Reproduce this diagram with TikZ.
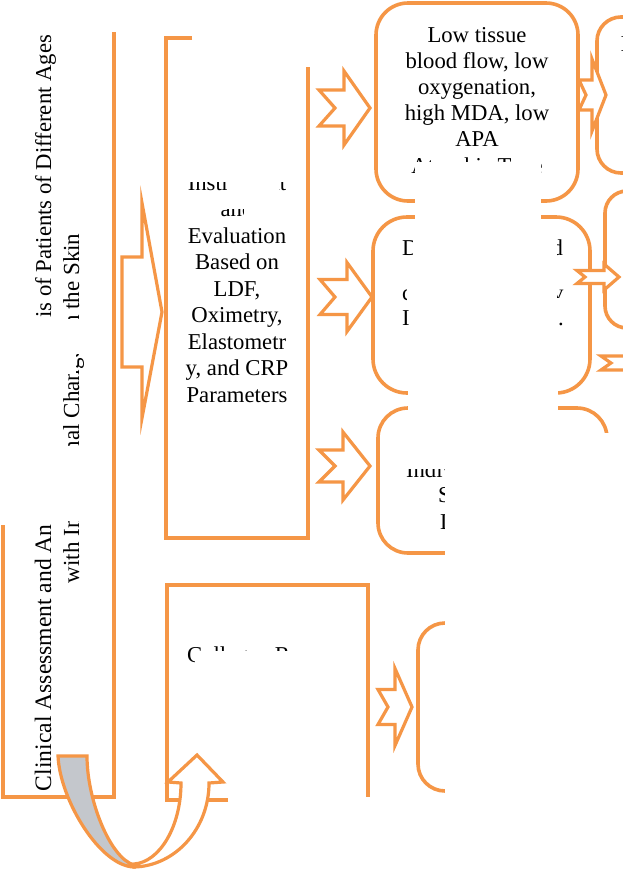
\documentclass[tikz,border=0pt]{standalone}
\usepackage{fontspec}
\setmainfont{Liberation Serif}
\definecolor{org}{RGB}{245,150,70}
\definecolor{band}{RGB}{196,199,204}
\newcommand{\notchedarrow}[7]{%
  \draw[arr] (#1,#3-#4) -- (#6,#3-#4) -- (#6,#3-#5) -- (#2,#3) -- (#6,#3+#5) -- (#6,#3+#4) -- (#1,#3+#4) -- (#7,#3) -- cycle;}
\begin{document}
\begin{tikzpicture}[x=1pt,y=-1pt,
  ob/.style={draw=org,line width=3.6pt,line join=miter},
  arr/.style={draw=org,line width=3.2pt,fill=white,line join=miter,miter limit=20},
  txt/.style={inner sep=0pt,outer sep=0pt,font=\fontsize{22.7}{26}\selectfont},
  vtxt/.style={inner sep=0pt,outer sep=0pt,rotate=90,font=\fontsize{23}{26}\selectfont},
  occ/.style={fill=white,draw=none}]
\fill[white] (0,0) rectangle (623,871);
\useasboundingbox (0,0) rectangle (623,871);

% ---------- frames ----------
\draw[ob] (114,32) -- (114,797) -- (3,797) -- (3,525);
\draw[ob] (192,38) -- (166,38) -- (166,538) -- (308,538) -- (308,67);
\draw[ob] (228,800) -- (167,800) -- (167,585) -- (368,585) -- (368,797);

\draw[ob,rounded corners=32pt] (376,3) rectangle (578,201);
\draw[ob,rounded corners=34pt] (373,217) rectangle (590,393);
\draw[ob,rounded corners=30pt] (378,408) rectangle (607,553);
\draw[ob,rounded corners=24pt] (597,17) rectangle (690,173);
\draw[ob,rounded corners=22pt] (605,191) rectangle (690,328);
\draw[ob,rounded corners=27pt] (418,623) rectangle (560,791);

% ---------- left column vertical text ----------
\node[vtxt,anchor=base west,font=\fontsize{23.6}{26}\selectfont] (l1a) at (51,791) {Clinical Assessment and An};
\node[vtxt,anchor=base east,font=\fontsize{22.7}{26}\selectfont] (l1b) at (51,35) {is of Patients of Different Ages};
\begin{scope}
  \clip (55,521) rectangle (95,600) (55,373.5) rectangle (95,445.5)
        (76,354) rectangle (95,373.5) (55,226) rectangle (95,318.5);
  \node[vtxt,anchor=base west] (l2) at (79,583) {with Involutional Changes in the Skin};
\end{scope}

% ---------- instrumental box text ----------
\begin{scope}
  \clip (160,181.5) rectangle (226,200) (278.5,181.5) rectangle (300,200);
  \node[txt,anchor=base] (i0) at (237,190) {Instrument};
\end{scope}
\begin{scope}
  \clip (219,209.5) rectangle (243.5,220);
  \node[txt,anchor=base] (i1) at (237,216.5) {and};
\end{scope}
\node[txt,anchor=base] (i2) at (237,243) {Evaluation};
\node[txt,anchor=base] (i3) at (237,269.5) {Based on};
\node[txt,anchor=base] (i4) at (237,296) {LDF,};
\node[txt,anchor=base] (i5) at (237,322.5) {Oximetry,};
\node[txt,anchor=base] (i6) at (237,349) {Elastometr};
\node[txt,anchor=base] (i7) at (237,375.5) {y, and CRP};
\node[txt,anchor=base] (i8) at (237,402) {Parameters};

% ---------- R1 text ----------
\node[txt,anchor=base] (r1a) at (477,42.5) {Low tissue};
\node[txt,anchor=base] (r1b) at (477,68.6) {blood flow, low};
\node[txt,anchor=base] (r1c) at (477,94.7) {oxygenation,};
\node[txt,anchor=base] (r1d) at (477,120.8) {high MDA, low};
\node[txt,anchor=base] (r1e) at (477,146.9) {APA};
\node[txt,anchor=base] (r1f) at (477,173) {Atrophic Type};

% ---------- R2 fragments ----------
\node[txt,anchor=base west] (r2a) at (402,255) {D};
\node[txt,anchor=base east] (r2b) at (563,255) {d};
\begin{scope}
  \clip (398,288) rectangle (406.5,301);
  \node[txt,anchor=base west] (r2c) at (402,300.5) {c};
\end{scope}
\begin{scope}
  \clip (557.5,288) rectangle (568,297.5);
  \node[txt,anchor=base west] (r2d) at (552,300.5) {v};
\end{scope}
\node[txt,anchor=base west] (r2e) at (402,325) {I};
\node[txt,anchor=base west] (r2f) at (558,325) {.};

% ---------- R3 fragments ----------
\begin{scope}
  \clip (400,469) rectangle (446,482);
  \node[txt,anchor=base west] (r3a) at (406,477) {Individual};
\end{scope}
\node[txt,anchor=base west] (r3b) at (438,502.5) {S};
\node[txt,anchor=base west] (r3c) at (440,529) {D};

% ---------- R4 fragment ----------
\node[txt,anchor=base west] (r4a) at (620.5,51) {I};

% ---------- Collagen box text ----------
\begin{scope}
  \clip (180,640) rectangle (194,668) (194,640) rectangle (362,650.5);
  \node[txt,anchor=base] (c1) at (267.5,662) {Collagen Reserve};
\end{scope}

% ---------- occluders ----------
\fill[occ] (415,161.5) rectangle (541,226);
\fill[occ] (413,226) rectangle (557,380);
\fill[occ] (408,380) rectangle (558,425);
\fill[occ] (445,433) rectangle (700,900);

% ---------- block arrows ----------
\draw[arr] (122,257) -- (142,257) -- (142,203) -- (162,312) -- (142,418) -- (142,367) -- (122,367) -- cycle;
\notchedarrow{319}{370}{108}{18}{37}{344}{335}
\notchedarrow{320}{372}{297}{17.5}{34.5}{347}{335}
\notchedarrow{319}{370}{466}{16}{34}{343}{335}
\notchedarrow{378}{412}{707}{17.5}{38.5}{395}{388}
\notchedarrow{579}{606}{95}{15}{36}{592}{586}
\notchedarrow{577}{619}{277}{6.5}{13}{604}{585}
\draw[arr] (640,356) -- (601,356) -- (611,363) -- (601,370) -- (640,370);

% ---------- curved U-turn arrow ----------
\draw[arr,fill=band] (58,756) -- (87,756) .. controls (87,800) and (110,858) .. (134,865)
   -- (134,867) .. controls (100,866) and (60,800) .. (58,756) -- cycle;
\draw[arr] (134,867) .. controls (175,866) and (209,829) .. (209,783)
   -- (223,782) -- (197,755) -- (168,782) -- (181,783)
   .. controls (181,826) and (160,862) .. (134,864) -- cycle;
\end{tikzpicture}
\end{document}
